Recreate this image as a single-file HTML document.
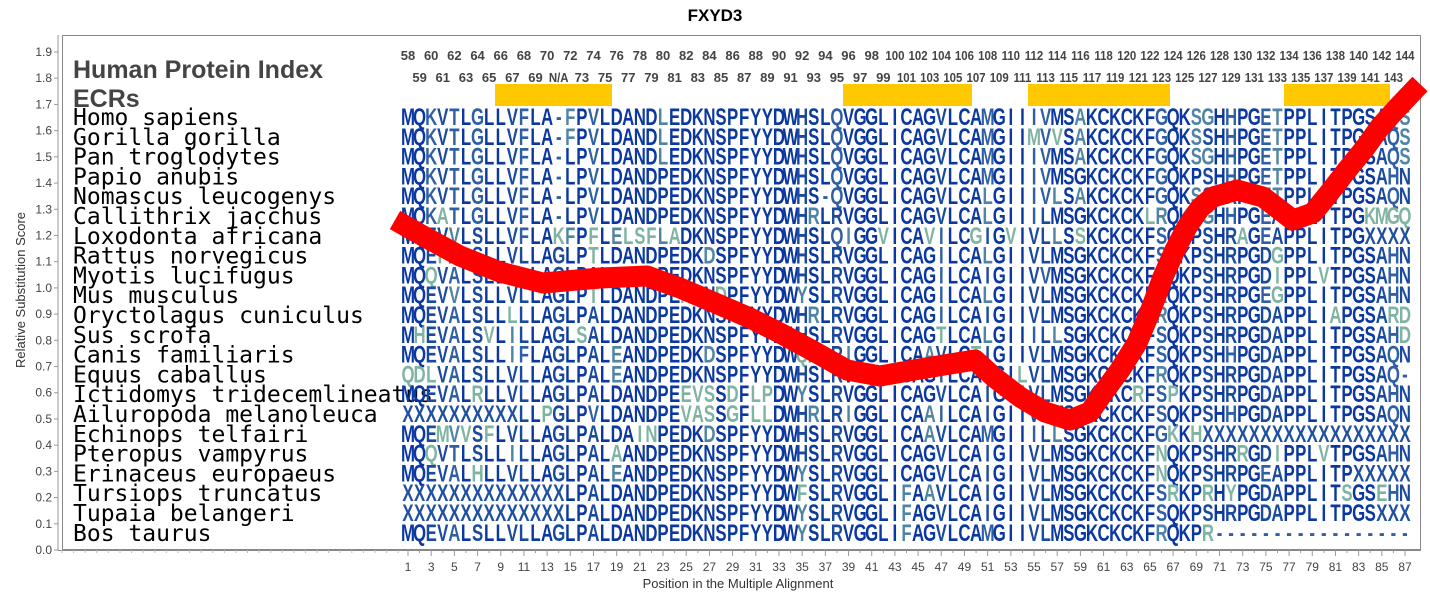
<!DOCTYPE html>
<html><head><meta charset="utf-8"><style>
html,body{margin:0;padding:0;background:#fff;}
svg{display:block;}
</style></head><body>
<svg id="s" width="1430" height="600" xmlns="http://www.w3.org/2000/svg" font-family="Liberation Sans, sans-serif">
<rect width="1430" height="600" fill="#fff"/>
<text x="715" y="21" text-anchor="middle" font-size="17" font-weight="bold" fill="#000">FXYD3</text>
<rect x="62.5" y="35.5" width="1358" height="514" fill="#fff" stroke="#888" stroke-width="1"/>
<line x1="58" y1="35" x2="58" y2="550" stroke="#999"/>
<line x1="58" y1="550.5" x2="1421" y2="550.5" stroke="#888"/>
<text transform="translate(25,290) rotate(-90)" text-anchor="middle" font-size="13" fill="#333">Relative Substitution Score</text>
<text x="738" y="588" text-anchor="middle" font-size="13" fill="#333">Position in the Multiple Alignment</text>
<g id="yax" font-size="12" fill="#444" text-anchor="end"></g>
<g id="xax" font-size="12" fill="#444" text-anchor="middle"></g>
<text x="73" y="78" font-size="25" font-weight="bold" fill="#444">Human Protein Index</text>
<text x="73" y="107" font-size="25" font-weight="bold" fill="#444">ECRs</text>
<g fill="#ffc800">
<rect x="495" y="84" width="117" height="22"/>
<rect x="843" y="84" width="129" height="22"/>
<rect x="1028" y="84" width="142" height="22"/>
<rect x="1284" y="84" width="106" height="22"/>
</g>
<g id="idx" font-size="13" font-weight="bold" fill="#444" text-anchor="middle"></g>
<g id="names" font-family="DejaVu Sans Mono, monospace" font-size="23" fill="#000"></g>
<g id="seq" font-size="24" font-weight="bold" text-anchor="middle"></g>
<polyline fill="none" stroke="#ff0000" stroke-width="21" stroke-linejoin="round" points="395,220 425,237 460,256 500,272 543,283 600,278 647,276 680,288 713,302 750,318 780,333 815,352 847,370 880,376 920,369 950,364 975,360 995,378 1020,397 1045,412 1070,420 1090,412 1103,393 1120,370 1137,343 1150,312 1163,277 1175,250 1187,227 1200,208 1213,197 1237,190 1263,197 1293,220 1313,213 1330,192 1347,170 1365,148 1380,127 1400,105 1420,84"/>
</svg>
<script>
const NS="http://www.w3.org/2000/svg";
function el(p,t,a,txt){const e=document.createElementNS(NS,t);for(const k in a)e.setAttribute(k,a[k]);if(txt!==undefined)e.textContent=txt;p.appendChild(e);return e;}
const X=p=>408+(p-1)*11.593;
const yax=document.getElementById('yax');
for(let i=0;i<=19;i++){const v=i/10,y=550-v*262.1;el(yax,'text',{x:52,y:y+4},v.toFixed(1));el(yax.parentNode,'line',{x1:54,x2:58,y1:y,y2:y,stroke:'#999'});}
const xax=document.getElementById('xax');
for(let p=1;p<=87;p++){const x=X(p);el(xax.parentNode,'line',{x1:x,x2:x,y1:550,y2:p%2?556:553,stroke:'#999'});if(p%2)el(xax,'text',{x:x,y:571},String(p));}
for(let x=62;x<400;x+=11.593){el(xax.parentNode,'line',{x1:x,x2:x,y1:550,y2:553,stroke:'#bbb'});}
const idx=document.getElementById('idx');
for(let p=1;p<=87;p++){const lab=p==14?'N/A':String(57+p);const a={x:X(p),y:p%2?60:82};if(lab.length==3)a.transform='translate('+X(p)+',0) scale(0.88,1) translate('+(-X(p))+',0)';el(idx,'text',a,lab);}
const rows=[
["Homo sapiens","MQKVTLGLLVFLA-FPVLDANDLEDKNSPFYYDWHSLQVGGLICAGVLCAMGIIIVMSAKCKCKFGQKSGHHPGETPPLITPGSAQS"],
["Gorilla gorilla","MQKVTLGLLVFLA-FPVLDANDLEDKNSPFYYDWHSLQVGGLICAGVLCAMGIIMVVSAKCKCKFGQKSSHHPGETPPLITPGSAQS"],
["Pan troglodytes","MQKVTLGLLVFLA-LPVLDANDLEDKNSPFYYDWHSLQVGGLICAGVLCAMGIIIVMSAKCKCKFGQKSGHHPGETPPLITPGSAQS"],
["Papio anubis","MQKVTLGLLVFLA-LPVLDANDPEDKNSPFYYDWHSLQVGGLICAGVLCAMGIIIVMSGKCKCKFGQKPSHHPGETPPLITPGSAHN"],
["Nomascus leucogenys","MQKVTLGLLVFLA-LPVLDANDPEDKNSPFYYDWHS-QVGGLICAGVLCALGIIIVLSAKCKCKFGQKSSHRPGETPPLITPGSAQN"],
["Callithrix jacchus","MQKATLGLLVFLA-LPVLDANDPEDKNSPFYYDWHRLRVGGLICAGVLCALGIIILMSGKCKCKLRQKPGHHPGEAPPLITPGKMGQ"],
["Loxodonta africana","MQEVVLSLLVFLAKFPFLELSFLADKNSPFYYDWHSLQIGGVICAVILCGIGVIVLLSSKCKCKFSQKPSHRAGEAPPLITPGXXXX"],
["Rattus norvegicus","MQEFALSLLVLLAGLPTLDANDPEDKDSPFYYDWHSLRVGGLICAGILCALGIIVLMSGKCKCKFSQKPSHRPGDGPPLITPGSAHN"],
["Myotis lucifugus","MQQVALSLLLLLAGLPALDANDPEDKNSPFYYDWHSLRVGGLICAGILCAIGIIVVMSGKCKCKFSQKPSHRPGDIPPLVTPGSAHN"],
["Mus musculus","MQEVVLSLLVLLAGLPTLDANDPENKNDPFYYDWYSLRVGGLICAGILCALGIIVLMSGKCKCKFRQKPSHRPGEGPPLITPGSAHN"],
["Oryctolagus cuniculus","MQEVALSLLLLLAGLPALDANDPEDKNSPFYYDWHRLRVGGLICAGILCAIGIIVLMSGKCKCKFRQKPSHRPGDAPPLIAPGSARD"],
["Sus scrofa","MHEVALSVLILLAGLSALDANDPEDKNSPFYYDWHSLRVGGLICAGTLCALGIIILLSGKCKCKFSQKPSHRPGDAPPLITPGSAHD"],
["Canis familiaris","MQEVALSLLIFLAGLPALEANDPEDKDSPFYYDWQRLRIGGLICAAVLCTIGIIVLMSGKCKCKFSQKPSHHPGDAPPLITPGSAQN"],
["Equus caballus","QDLVALSLLVLLAGLPALEANDPEDKNSPFYYDWHSLRVSGLICAGILCAVGILVLMSGKCKCKFRQKPSHRPGDAPPLITPGSAQ-"],
["Ictidomys tridecemlineatus","MQEVALRLLVLLAGLPALDANDPEEVSSDFLPDWYSLRVGGLICAGVLCAIGIIVLMSGKCKCRFSPKPSHRPGDAPPLITPGSAHN"],
["Ailuropoda melanoleuca","XXXXXXXXXXLLPGLPVLDANDPEVASSGFLLDWHRLRIGGLICAAILCAIGIIVLMSGKCKCKFSQKPSHHPGDAPPLITPGSAQN"],
["Echinops telfairi","MQEMVVSFLVLLAGLPALDAINPEDKDSPFYYDWHSLRVGGLICAAVLCAMGIIILLSGKCKCKFGKKHXXXXXXXXXXXXXXXXXX"],
["Pteropus vampyrus","MQQVTLSLLILLAGLPALAANDPEDKNSPFYYDWHSLRVGGLICAGVLCAIGIIVLMSGKCKCKFNQKPSHRRGDIPPLVTPGSAHN"],
["Erinaceus europaeus","MQEVALHLLVLLAGLPALEANDPEDKNSPFYYDWYSLRVGGLICAGVLCAIGIIVLMSGKCKCKFNQKPSHRPGEAPPLITPXXXXX"],
["Tursiops truncatus","XXXXXXXXXXXXXXLPALDANDPEDKNSPFYYDWFSLRVGGLIFAAVLCAIGIIVLMSGKCKCKFSRKPRHYPGDAPPLITSGSEHN"],
["Tupaia belangeri","XXXXXXXXXXXXXXLPALDANDPEDKNSPFYYDWYSLRVGGLIFAGVLCAIGIIVLMSGKCKCKFSQKPSHRPGDAPPLITPGSXXX"],
["Bos taurus","MQEVALSLLVLLAGLPALDANDPEDKNSPFYYDWYSLRVGGLIFAGVLCAMGIIVLMSGKCKCKFRQKPR-----------------"]];
const names=document.getElementById('names'),seq=document.getElementById('seq');
const sx=0.7;
rows.forEach((r,i)=>{
 const y=125+i*19.8;
 el(names,'text',{x:73,y:y},r[0]);
 const g=el(seq,'g',{transform:'scale('+sx+',1)'});
 for(let p=1;p<=87;p++){
  const c=r[1][p-1]||'-';
  let n=0;rows.forEach(q=>{if(q[1][p-1]===c)n++;});
  const f=n/rows.length;
  let col=f>0.75?'#0a37a0':f>0.45?'#1a4a9e':f>0.25?'#2f5fa5':f>0.12?'#4f84a4':'#7fb4a2';
  if(c==='X')col='#1f50a0';
  if(c==='-')col='#2f5fa5';
  el(g,'text',{x:(X(p)/sx).toFixed(1),y:y,fill:col},c);
 }
});
</script>
</body></html>
